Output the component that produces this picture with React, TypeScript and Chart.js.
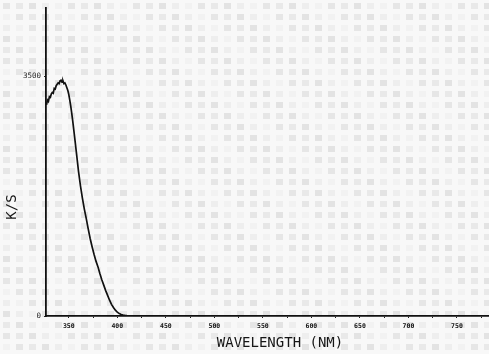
import React, { useEffect, useRef } from "react";
import { Chart, registerables } from "chart.js";
Chart.register(...registerables);

const wavelengths = [
  327, 328, 329, 330, 331, 332, 333, 334, 335, 336, 337, 338, 339, 340, 341, 342, 343, 344, 345, 346,
  347, 348, 349, 350, 351, 352, 353, 354, 355, 356, 358, 360, 362, 364, 366, 368, 370, 372, 374, 376,
  378, 380, 382, 384, 386, 388, 390, 392, 394, 396, 398, 400, 402, 404, 406, 408, 410, 414, 420, 430,
];
const ksValues = [
  3080, 3150, 3130, 3200, 3190, 3240, 3260, 3250, 3320, 3310, 3360, 3380, 3400, 3390, 3430, 3440, 3410, 3430, 3390, 3400,
  3370, 3330, 3290, 3230, 3150, 3060, 2960, 2850, 2730, 2610, 2360, 2110, 1900, 1720, 1560, 1420, 1270, 1130, 1010, 900,
  800, 720, 620, 530, 450, 370, 300, 230, 170, 125, 85, 55, 35, 22, 14, 8, 5, 2, 0, 0,
];
const xTickValues = [350, 375, 400, 425, 450, 475, 500, 525, 550, 575, 600, 625, 650, 675, 700, 725, 750, 775];
const xTickLabels = ["350", "", "400", "", "450", "", "500", "", "550", "", "600", "", "650", "", "700", "", "750", ""];
const yTickValues = [0, 3500];
const yTickLabels = ["0", "3500"];
const xTitle = "WAVELENGTH (NM)";
const yTitle = "K/S";

export default function App() {
  const ref = useRef<HTMLCanvasElement>(null);
  useEffect(() => {
    document.body.style.margin = "0";
    const canvas = ref.current!;
    const bgPlugin = {
      id: "bgTexture",
      beforeDraw(chart: any) {
        const c = chart.ctx;
        c.save();
        c.fillStyle = "#f8f8f8";
        c.fillRect(0, 0, chart.width, chart.height);
        const shades = ["#e6e6e6", "#eeeeee", "#e9e9e9", "#f2f2f2", "#e3e3e3"];
        for (let j = 0; j * 11 < chart.height; j++) {
          for (let i = 0; i * 13 < chart.width; i++) {
            c.fillStyle = shades[(i * 7 + j * 3) % 5];
            c.fillRect(i * 13 + 3, j * 11 + 3, 7, 6);
          }
        }
        c.restore();
      },
    };
    const titlePlugin = {
      id: "axisTitles",
      afterDraw(chart: any) {
        const c = chart.ctx;
        c.save();
        c.fillStyle = "#151515";
        c.font = '14px "DejaVu Sans Mono"';
        c.textAlign = "center";
        c.textBaseline = "middle";
        c.fillText(xTitle, 280, 343);
        c.translate(12, 207);
        c.rotate(-Math.PI / 2);
        c.fillText(yTitle, 0, 0);
        c.restore();
      },
    };
    const chart = new Chart(canvas, {
      type: "line",
      data: {
        datasets: [
          {
            data: wavelengths.map((w, i) => ({ x: w, y: ksValues[i] })),
            borderColor: "#111",
            borderWidth: 1.7,
            pointRadius: 0,
            tension: 0,
            fill: false,
          },
        ],
      },
      options: {
        responsive: false,
        animation: false,
        layout: { padding: { top: 7, right: 0, left: 0, bottom: 0 } },
        plugins: { legend: { display: false }, tooltip: { enabled: false } },
        scales: {
          x: {
            type: "linear",
            min: 326.5,
            max: 783,
            afterBuildTicks: (s: any) => {
              s.ticks = xTickValues.map((v) => ({ value: v }));
            },
            afterFit: (s: any) => {
              s.height = 38;
            },
            ticks: {
              autoSkip: false,
              maxRotation: 0,
              padding: 4,
              color: "#111",
              font: { family: "DejaVu Sans Mono", size: 6.5, weight: "bold" },
              callback: (v: any) => {
                const i = xTickValues.indexOf(Number(v));
                return i >= 0 ? xTickLabels[i] : "";
              },
            },
            grid: { drawOnChartArea: false, drawTicks: true, tickLength: 2, color: "#222", lineWidth: 1 },
            border: { color: "#111", width: 1.8 },
          },
          y: {
            min: 0,
            max: 4500,
            afterBuildTicks: (s: any) => {
              s.ticks = yTickValues.map((v) => ({ value: v }));
            },
            afterFit: (s: any) => {
              s.width = 46;
            },
            ticks: {
              padding: 3,
              color: "#222",
              font: { family: "DejaVu Sans Mono", size: 7.5 },
              callback: (v: any) => {
                const i = yTickValues.indexOf(Number(v));
                return i >= 0 ? yTickLabels[i] : "";
              },
            },
            grid: { drawOnChartArea: false, drawTicks: true, tickLength: 2, color: "#222", lineWidth: 1 },
            border: { color: "#111", width: 1.8 },
          },
        },
      },
      plugins: [bgPlugin, titlePlugin],
    });
    return () => chart.destroy();
  }, []);
  return (
    <div style={{ position: "absolute", left: 0, top: 0, width: 489, height: 354 }}>
      <canvas ref={ref} width={489} height={354} />
    </div>
  );
}
